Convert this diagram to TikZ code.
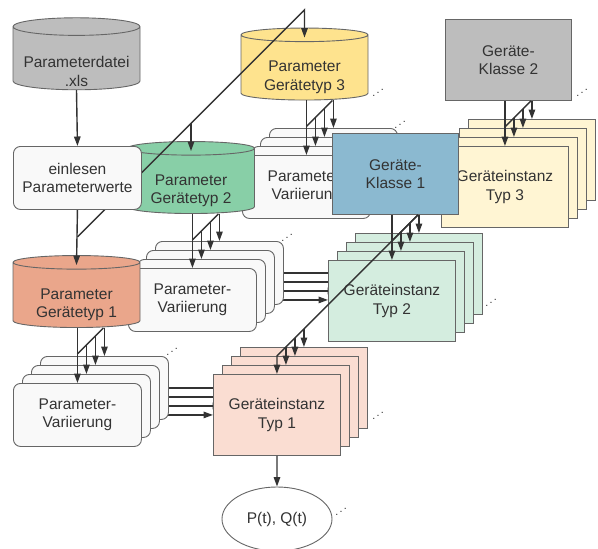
\documentclass[tikz,border=0pt]{standalone}
\usepackage{fontspec}
\setmainfont{Liberation Sans}
\usepackage{tikz}
\usetikzlibrary{positioning, arrows.meta, calc, shapes.geometric}

\definecolor{ink}{HTML}{333333}
\definecolor{edge}{HTML}{666666}
\definecolor{varfill}{HTML}{F9F9F9}
\definecolor{xlsgray}{HTML}{BDBDBD}
\definecolor{cylone}{HTML}{EAA68B}
\definecolor{cyltwo}{HTML}{88CFA7}
\definecolor{cylthree}{HTML}{FEE38E}
\definecolor{instone}{HTML}{FADDD2}
\definecolor{insttwo}{HTML}{D4EDDF}
\definecolor{instthree}{HTML}{FFF5D3}
\definecolor{klone}{HTML}{8BB9D0}
\definecolor{kltwo}{HTML}{BDBDBD}

\pgfdeclarelayer{back}
\pgfdeclarelayer{front}
\pgfsetlayers{back,main,front}

\tikzset{
  base/.style      = {draw=edge, line width=0.9pt, text=ink, align=center, inner sep=2pt,
                      font=\fontsize{15.5}{18.5}\selectfont},
  dbcyl/.style     = {base, cylinder, shape border rotate=90, aspect=0.16,
                      minimum width=127pt, minimum height=72pt},
  varbox/.style    = {base, rounded corners=7pt, fill=varfill,
                      minimum width=128pt, minimum height=63pt},
  instbox/.style   = {base, fill=#1, minimum width=127pt, minimum height=81pt},
  klassebox/.style = {base, minimum width=126pt, minimum height=81pt},
  arr/.style       = {-{Triangle[length=9.5pt,width=6.5pt]}, line width=1.4pt, draw=ink},
  bus/.style       = {line width=1.4pt, draw=ink},
  moredots/.style  = {text=ink, inner sep=0pt, font=\fontsize{11}{11}\selectfont}
}

% label of a cylinder, set on its body below the lid
\newcommand{\cyltext}[2][9pt]{%
  \raisebox{-#1}[\height][\depth]{\begin{tabular}{@{}c@{}}#2\end{tabular}}}

% one source feeding a stack of four
\newcommand{\fanout}[2]{%
  \coordinate (fo) at (#1.south -| #2-0.north);
  \draw[arr] (fo) -- (#2-0.north);
  \draw[bus] ($(fo)+(0,26)$) -- ($(fo)+(26,0)$);
  \foreach \k in {1,2,3}
    \draw[arr] ($(fo)+(9*\k,{max(26-9*\k,0)})$) -- (#2-\k.north);
}

\begin{document}
\begin{tikzpicture}[x=1pt, y=-1pt]
  \useasboundingbox (0,0) rectangle (598,549);

  % --- reading the parameter file -----------------------------------------
  \begin{pgfonlayer}{front}
    \node[varbox, anchor=north west] (ein) at (13,146) {einlesen\\Parameterwerte};
  \end{pgfonlayer}

  % --- type 3 ---------------------------------------------------------------
  \foreach \k in {3,2,1}
    \node[varbox, anchor=north west] (var3-\k) at (242+9*\k,155-9*\k) {};
  \node[varbox, anchor=north west] (var3-0) at (242,155) {Parameter-\\Variierung};
  \node[dbcyl, fill=cylthree] (cyl3) at (304.5,68.5) {\cyltext{Parameter\\Gerätetyp 3}};
  \fanout{cyl3}{var3}

  \foreach \k in {3,2,1}
    \node[instbox=instthree, anchor=north west] (typ3-\k) at (441+9*\k,146-9*\k) {};
  \node[instbox=instthree, anchor=north west] (typ3-0) at (441,146) {Geräteinstanz\\Typ 3};
  \node[klassebox, fill=kltwo, anchor=north west] (kl2) at (445,19) {Geräte-\\Klasse 2};
  \fanout{kl2}{typ3}

  % --- type 2 ---------------------------------------------------------------
  \foreach \k in {3,2,1}
    \node[varbox, anchor=north west] (var2-\k) at (128+9*\k,268-9*\k) {};
  \node[varbox, anchor=north west] (var2-0) at (128,268) {Parameter-\\Variierung};
  \node[dbcyl, fill=cyltwo] (cyl2) at (191,182) {\cyltext{Parameter\\Gerätetyp 2}};
  \fanout{cyl2}{var2}

  \foreach \k in {3,2,1}
    \node[instbox=insttwo, anchor=north west] (typ2-\k) at (328+9*\k,260-9*\k) {};
  \node[instbox=insttwo, anchor=north west] (typ2-0) at (328,260) {Geräteinstanz\\Typ 2};
  \node[klassebox, fill=klone, anchor=north west] (kl1) at (332,133) {Geräte-\\Klasse 1};
  \fanout{kl1}{typ2}

  % --- type 1 ---------------------------------------------------------------
  \foreach \k in {3,2,1}
    \node[varbox, anchor=north west] (var1-\k) at (13+9*\k,383-9*\k) {};
  \node[varbox, anchor=north west] (var1-0) at (13,383) {Parameter-\\Variierung};

  \foreach \k in {3,2,1}
    \node[instbox=instone, anchor=north west] (typ1-\k) at (213+9*\k,374-9*\k) {};
  \node[instbox=instone, anchor=north west] (typ1-0) at (213,374) {Geräteinstanz\\Typ 1};

  \node[dbcyl, fill=cylone] (cyl1) at (76.5,296) {\cyltext{Parameter\\Gerätetyp 1}};
  \fanout{cyl1}{var1}

  % Klasse 1 also feeds type 1
  \coordinate (kbus) at ($(kl1.south -| typ2-0.north)+(26,0)$);
  \path let \p1 = (kbus), \p2 = (typ1-0.north) in
    coordinate (kbend) at (\x2,{\y1-(\x1-\x2)});
  \draw[arr] (kbus) -- (kbend) -- (typ1-0.north);
  \foreach \k in {1,2,3}
    \draw[arr] ($(kbend)+(9*\k,-9*\k)$) -- (typ1-\k.north);

  % variations into instances
  \begin{pgfonlayer}{back}
    \foreach \s in {1,2,3}
      \foreach \k in {0,...,3}
        \draw[arr] (var\s-\k.east) -- (var\s-\k.east -| typ\s-\k.west);
  \end{pgfonlayer}

  % --- file, reading, output ------------------------------------------------
  \node[dbcyl, fill=xlsgray] (cyl0) at (76.5,59.5) {\cyltext[14pt]{Parameterdatei\\.xls}};
  \draw[arr] (cyl0.south) -- (ein.north);

  \coordinate (ebus) at ($(ein.south)+(0,27)$);
  \path let \p1 = (ebus), \p2 = (cyl3.north), \p3 = (cyl2.north) in
    coordinate (etop) at (\x2,{\y1+(\x2-\x1)})
    coordinate (emid) at (\x3,{\y1+(\x3-\x1)});
  \draw[arr] (ein.south) -- ($(cyl1.north)+(0,10)$);
  \draw[arr] (ebus) -- (etop) -- ($(cyl3.north)+(0,10)$);
  \draw[arr] (emid) -- ($(cyl2.north)+(0,10)$);

  \node[base, ellipse, fill=white, minimum width=110pt, minimum height=64pt]
    (pq) at (277,519) {P(t), Q(t)};
  \draw[arr] (typ1-0.south) -- (pq.north);

  % continuation marks
  \node[moredots] (d1) at (378,90)  {\reflectbox{$\ddots$}};
  \node[moredots] (d2) at (400,122) {\reflectbox{$\ddots$}};
  \node[moredots] (d3) at (582,90)  {\reflectbox{$\ddots$}};
  \node[moredots] (d4) at (287,235) {\reflectbox{$\ddots$}};
  \node[moredots] (d5) at (491,300) {\reflectbox{$\ddots$}};
  \node[moredots] (d6) at (172,349) {\reflectbox{$\ddots$}};
  \node[moredots] (d7) at (378,413) {\reflectbox{$\ddots$}};
  \node[moredots] (d8) at (341,509) {\reflectbox{$\ddots$}};

\end{tikzpicture}
\end{document}
